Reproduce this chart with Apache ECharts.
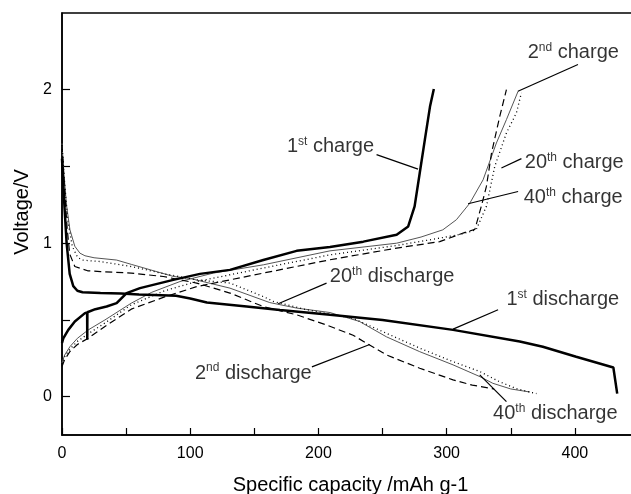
<!DOCTYPE html>
<html>
<head>
<meta charset="utf-8">
<title>Charge / discharge curves</title>
<script src="https://cdn.jsdelivr.net/npm/echarts@6/dist/echarts.min.js"></script>
<style>
  html, body { margin: 0; padding: 0; background: #fff; }
  #chart { width: 631px; height: 494px; }
</style>
</head>
<body>
<div id="chart"></div>
<script>
// capacity (mAh/g), voltage (V) pairs
var discharge1 = [[0,1.55],[1.5,1.3],[3.6,1.0],[6,0.8],[8.8,0.72],[12,0.69],[16,0.68],[30,0.675],[46,0.672],
  [60,0.665],[89,0.657],[100,0.64],[113,0.613],[144,0.587],[170,0.565],[209,0.533],[250,0.5],[305,0.435],
  [357,0.359],[375,0.325],[401,0.26],[430,0.19],[433,0.02]];
var charge1 = [[0,0.35],[1,0.38],[4.9,0.435],[10,0.49],[17.9,0.544],[19.6,0.548],[19.7,0.37],[19.8,0.55],
  [26,0.57],[34.8,0.587],[42.6,0.609],[50.4,0.675],[60.8,0.707],[86.8,0.761],[107.6,0.8],[131,0.826],
  [157,0.89],[183,0.95],[209,0.975],[235,1.01],[261,1.055],[270,1.109],[275,1.24],[279,1.457],[283,1.675],
  [287,1.89],[290,2.005]];
var discharge2 = [[0,1.64],[2,1.35],[4,1.1],[6,0.93],[10,0.848],[20,0.82],[30,0.815],[54,0.805],[79,0.783],
  [105,0.74],[131,0.675],[157,0.587],[183,0.533],[206,0.468],[227,0.4],[253,0.272],[279,0.185],[305,0.109],
  [320,0.075],[337,0.05]];
var charge2 = [[0,0.196],[2,0.24],[6.2,0.294],[12,0.34],[20.5,0.381],[33.5,0.457],[54,0.57],[80,0.65],
  [105,0.717],[157,0.805],[209,0.892],[261,0.968],[294.6,1.01],[312.8,1.066],[322,1.09],[327,1.24],
  [331,1.37],[335,1.588],[341.4,1.826],[346.6,2.0]];
var discharge20 = [[0,1.64],[2,1.4],[4.5,1.15],[8,0.98],[12,0.91],[15.4,0.89],[30,0.88],[54,0.848],[80,0.8],
  [105,0.761],[131,0.74],[157,0.652],[165,0.62],[191,0.566],[227,0.51],[253,0.413],[279,0.316],[305,0.228],
  [326,0.163],[341,0.098],[355,0.05],[370,0.02]];
var charge20 = [[0,0.21],[2,0.26],[6.2,0.31],[12,0.36],[20.5,0.41],[33.5,0.48],[54,0.598],[80,0.69],
  [105,0.75],[157,0.838],[209,0.924],[261,0.985],[294.6,1.033],[312,1.06],[323,1.087],[331,1.24],
  [337.5,1.5],[346.6,1.718],[354.4,1.849],[358.3,1.98]];
var discharge40 = [[0,1.65],[1.5,1.45],[3.5,1.25],[6.2,1.087],[10,0.98],[14,0.935],[17.9,0.918],[25,0.905],
  [42.6,0.89],[54,0.862],[87,0.783],[100,0.77],[131,0.707],[162,0.613],[183,0.577],[209,0.548],[232,0.49],
  [253,0.39],[279,0.293],[305,0.207],[326,0.13],[336,0.087],[350,0.05],[365,0.03]];
var charge40 = [[0,0.22],[2,0.27],[6.2,0.326],[12,0.38],[20.5,0.435],[33.5,0.5],[54,0.609],[70,0.68],
  [92,0.75],[118,0.805],[157,0.859],[209,0.95],[261,1.0],[280,1.04],[297,1.087],[307.6,1.153],[318,1.26],
  [328.4,1.413],[338.8,1.653],[346.6,1.805],[355.7,1.99]];

var xLabels = [0, 100, 200, 300, 400];
var xTicks = [0, 50, 100, 150, 200, 250, 300, 350, 400, 450];
var yLabels = [0, 1, 2];
var yTicks = [0, 0.5, 1, 1.5, 2];

// annotations: [number, suffix, word, textPos, leaderFrom, leaderTo]
var notes = [
  ['1', 'st', 'charge', [175.4, 1.629], [245.3, 1.577], [277.7, 1.483]],
  ['2', 'nd', 'charge', [363.2, 2.242], [402.4, 2.164], [355.6, 1.99]],
  ['20', 'th', 'charge', [360.9, 1.524], [358.3, 1.551], [342.7, 1.49]],
  ['40', 'th', 'charge', [360.1, 1.296], [355.7, 1.337], [316.7, 1.257]],
  ['20', 'th', 'discharge', [208.9, 0.783], [206.3, 0.74], [168.6, 0.605]],
  ['1', 'st', 'discharge', [346.6, 0.635], [340.1, 0.566], [305, 0.44]],
  ['2', 'nd', 'discharge', [103.7, 0.153], [194.9, 0.194], [240, 0.34]],
  ['40', 'th', 'discharge', [336.2, -0.108], [346.6, -0.033], [325.8, 0.142]]
];

var font = 'Liberation Sans, Arial, sans-serif';

function curve(data, width, color, type) {
  return {
    type: 'line', data: data, showSymbol: false, symbol: 'none', smooth: false,
    lineStyle: { width: width, color: color, type: type },
    silent: true, animation: false
  };
}

var series = [
  curve(discharge40, 1, '#555', 'solid'),
  curve(charge40, 1, '#555', 'solid'),
  curve(discharge20, 1.3, '#000', [1, 3]),
  curve(charge20, 1.3, '#000', [1, 3]),
  curve(discharge2, 1.2, '#000', [7, 4]),
  curve(charge2, 1.2, '#000', [7, 4]),
  curve(discharge1, 2.5, '#000', 'solid'),
  curve(charge1, 2.5, '#000', 'solid')
];

series.push({
  type: 'scatter', symbolSize: 0, animation: false, silent: true,
  data: notes.map(function (n) {
    return { value: n[3], label: { formatter: '{b|' + n[0] + '}{s|' + n[1] + '}{b| ' + n[2] + '}' } };
  }),
  label: {
    show: true, position: [0, 0], align: 'left', verticalAlign: 'middle',
    color: '#000', fontFamily: font,
    rich: {
      b: { fontSize: 20, fontFamily: font, color: '#000', lineHeight: 24 },
      s: { fontSize: 12, fontFamily: font, color: '#000', padding: [0, 0, 10, 0] }
    }
  },
  markLine: {
    silent: true, symbol: 'none', animation: false,
    label: { show: false },
    lineStyle: { color: '#000', width: 1.2, type: 'solid' },
    data: notes.map(function (n) {
      return [{ coord: n[4] }, { coord: n[5] }];
    })
  }
});

var chart = echarts.init(document.getElementById('chart'));
chart.setOption({
  animation: false,
  backgroundColor: '#fff',
  grid: {
    left: 62, top: 13, width: 577, height: 422, outerBoundsMode: 'none', containLabel: false,
    show: true, borderColor: '#000', borderWidth: 1.5
  },
  xAxis: {
    type: 'value', min: 0, max: 450, interval: 50,
    name: 'Specific capacity /mAh g-1', nameLocation: 'middle', nameGap: 40,
    nameTextStyle: { fontSize: 20, fontFamily: font, color: '#000' },
    axisLine: { show: true, onZero: false, lineStyle: { color: '#000', width: 1.5 } },
    axisTick: { show: true, inside: true, length: 7, lineStyle: { color: '#000', width: 1.2 }, customValues: xTicks },
    axisLabel: {
      fontSize: 16, fontFamily: font, color: '#000', margin: 11,
      customValues: xLabels
    },
    splitLine: { show: false }
  },
  yAxis: {
    type: 'value', min: -0.25, max: 2.5,
    name: 'Voltage/V', nameLocation: 'middle', nameGap: 28, nameRotate: 90,
    nameTextStyle: { fontSize: 20, fontFamily: font, color: '#000', padding: [0, 0, 0, 24] },
    axisLine: { show: true, onZero: false, lineStyle: { color: '#000', width: 1.5 } },
    axisTick: { show: true, inside: true, length: 8, lineStyle: { color: '#000', width: 1.2 }, customValues: yTicks },
    axisLabel: { fontSize: 16, fontFamily: font, color: '#000', margin: 10, customValues: yLabels },
    splitLine: { show: false }
  },
  series: series
});
</script>
</body>
</html>
